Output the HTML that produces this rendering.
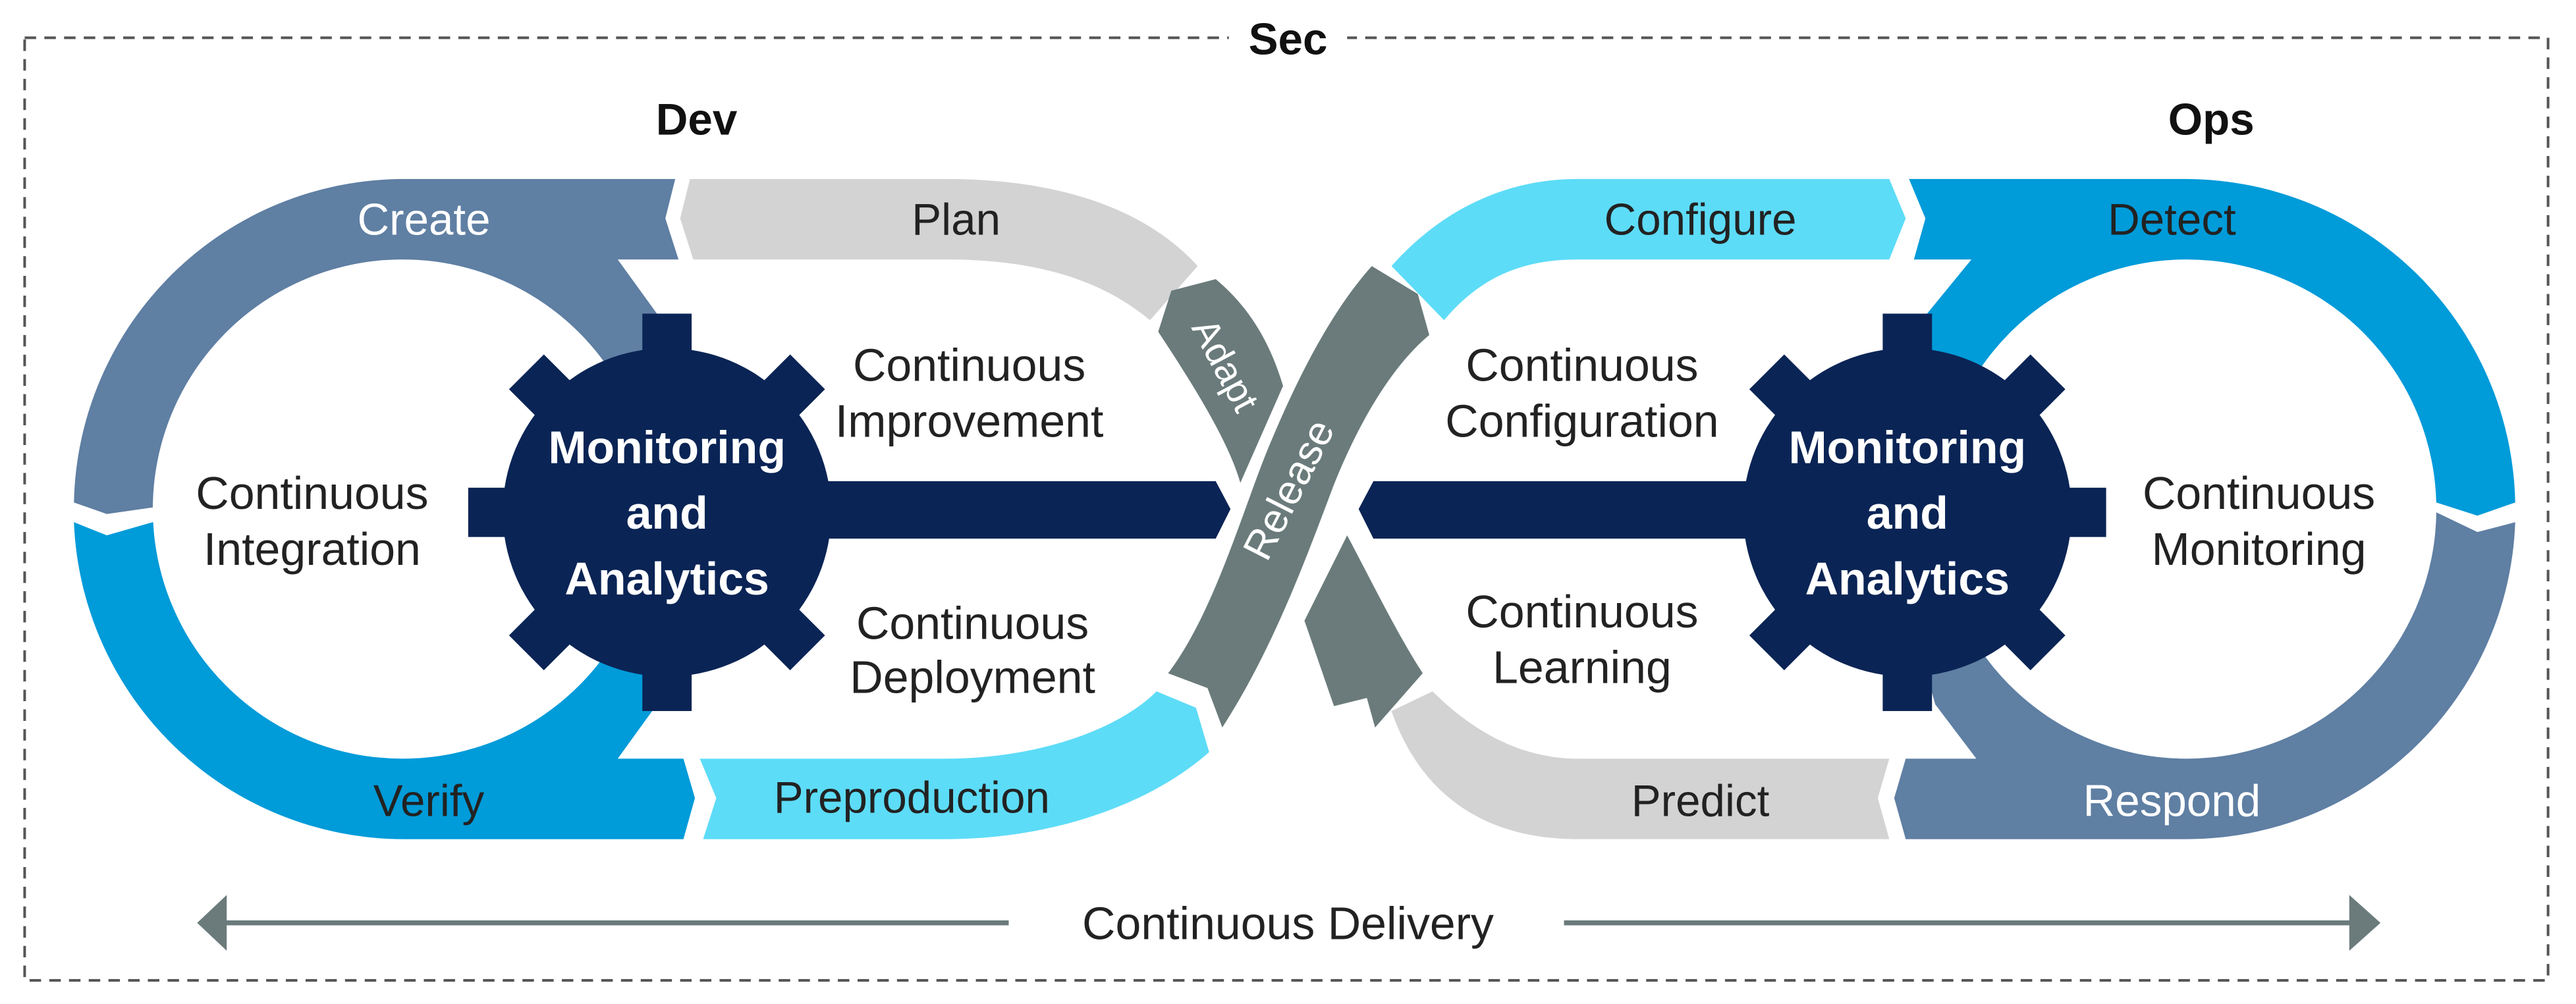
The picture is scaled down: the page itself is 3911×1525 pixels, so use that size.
<!DOCTYPE html>
<html><head><meta charset="utf-8"><style>html,body{margin:0;padding:0;background:#fff}svg{display:block}</style></head>
<body>
<svg width="3911" height="1525" viewBox="0 0 1568 611.4" preserveAspectRatio="none" xmlns="http://www.w3.org/2000/svg" font-family="Liberation Sans, Arial, sans-serif">
<rect x="15" y="23" width="1536" height="574" fill="none" stroke="#555" stroke-width="1.6" stroke-dasharray="7,5"/>
<rect x="748" y="10" width="72" height="26" fill="#fff"/>
<text x="784" y="33" font-size="27" font-weight="bold" text-anchor="middle" fill="#111">Sec</text>
<text x="424" y="82" font-size="27" font-weight="bold" text-anchor="middle" fill="#111">Dev</text>
<text x="1346" y="82" font-size="27" font-weight="bold" text-anchor="middle" fill="#111">Ops</text>

<!-- Left loop -->
<path d="M93,309 L65,313 L45,306 A201,201 0 0 1 246,109 L411,109 L405,133 L413,158 L376,158 L410,205 L420,300 L246,310 Z" fill="#5f7fa3"/>
<path d="M45,318 L65,326 L93,318 L246,312 L420,320 L410,415 L376,462 L416,462 L423,486 L416,511 L246,511 A201,201 0 0 1 45,318 Z" fill="#009bd9"/>
<circle cx="245" cy="310" r="152" fill="#fff"/>
<path d="M414,133 L420,109 L576,109 C650,109 700,130 729,162 L700,195 C670,170 630,158 576,158 L422,158 Z" fill="#d3d3d3"/>
<path d="M426,462 L576,462 C630,462 680,445 704,421 L728,431 L736,458 C700,490 640,511 576,511 L428,511 L436,486 Z" fill="#5ddcf7"/>
<path d="M705,202 L713,177 L740,170 C758,185 772,205 781,235 L755,294 C748,270 730,240 705,202 Z" fill="#6b7b7b"/>

<!-- Right loop -->
<path d="M847,162 C880,125 920,109 960,109 L1150,109 L1160,133 L1150,158 L960,158 C925,158 900,170 879,195 Z" fill="#5ddcf7"/>
<path d="M1162,109 L1331,109 A201,201 0 0 1 1531,306 L1508,314 L1483,306 L1331,310 L1150,300 L1173,191 L1200,158 L1165,158 L1172,133 Z" fill="#009bd9"/>
<path d="M1531,318 A200,200 0 0 1 1331,511 L1160,511 L1153,486 L1160,462 L1203,462 L1178,429 L1150,330 L1331,312 L1483,312 L1508,324 Z" fill="#5f7fa3"/>
<circle cx="1331" cy="310" r="152" fill="#fff"/>
<path d="M872,421 C898,447 928,462 960,462 L1150,462 L1143,486 L1150,511 L960,511 C905,511 865,485 847,433 Z" fill="#d3d3d3"/>
<path d="M794,378 L820,326 C838,360 850,385 866,410 L837,443 L832,425 L812,430 C805,410 800,395 794,378 Z" fill="#6b7b7b"/>

<!-- Release -->
<path d="M711,410 C740,372 758,305 774,268 C790,230 810,190 835,162 L863,179 L870,204 C846,224 826,260 812,295 C795,340 775,395 744,443 L735,419 Z" fill="#6b7b7b"/>
<text transform="translate(792,302) rotate(-63)" font-size="25" fill="#fff" text-anchor="middle">Release</text>
<text transform="translate(739,226) rotate(62)" font-size="23" fill="#fff" text-anchor="middle">Adapt</text>

<!-- Navy bars -->
<path d="M406,293 L740,293 L749,310 L740,328 L406,328 Z" fill="#0a2455"/>
<path d="M827,310 L836,293 L1163,293 L1163,328 L836,328 Z" fill="#0a2455"/>

<!-- Gears -->
<g transform="translate(406,312)" fill="#0a2455">
<circle r="100"/>
<rect x="-15" y="-121" width="30" height="40"/>
<rect x="-15" y="-121" width="30" height="40" transform="rotate(45)"/>
<rect x="-15" y="-121" width="30" height="40" transform="rotate(90)"/>
<rect x="-15" y="-121" width="30" height="40" transform="rotate(135)"/>
<rect x="-15" y="-121" width="30" height="40" transform="rotate(180)"/>
<rect x="-15" y="-121" width="30" height="40" transform="rotate(225)"/>
<rect x="-15" y="-121" width="30" height="40" transform="rotate(270)"/>
<rect x="-15" y="-121" width="30" height="40" transform="rotate(315)"/>
</g>
<g transform="translate(1161,312)" fill="#0a2455">
<circle r="100"/>
<rect x="-15" y="-121" width="30" height="40"/>
<rect x="-15" y="-121" width="30" height="40" transform="rotate(45)"/>
<rect x="-15" y="-121" width="30" height="40" transform="rotate(90)"/>
<rect x="-15" y="-121" width="30" height="40" transform="rotate(135)"/>
<rect x="-15" y="-121" width="30" height="40" transform="rotate(180)"/>
<rect x="-15" y="-121" width="30" height="40" transform="rotate(225)"/>
<rect x="-15" y="-121" width="30" height="40" transform="rotate(270)"/>
<rect x="-15" y="-121" width="30" height="40" transform="rotate(315)"/>
</g>
<g font-size="28" font-weight="bold" fill="#fff" text-anchor="middle">
<text x="406" y="282">Monitoring</text><text x="406" y="322">and</text><text x="406" y="362">Analytics</text>
<text x="1161" y="282">Monitoring</text><text x="1161" y="322">and</text><text x="1161" y="362">Analytics</text>
</g>

<!-- Band labels -->
<g font-size="27" text-anchor="middle">
<text x="258" y="143" fill="#fff">Create</text>
<text x="582" y="143" fill="#222">Plan</text>
<text x="261" y="497" fill="#222">Verify</text>
<text x="555" y="495" fill="#222">Preproduction</text>
<text x="1035" y="143" fill="#222">Configure</text>
<text x="1322" y="143" fill="#222">Detect</text>
<text x="1035" y="497" fill="#222">Predict</text>
<text x="1322" y="497" fill="#fff">Respond</text>
</g>
<g font-size="28" text-anchor="middle" fill="#222">
<text x="190" y="310">Continuous</text><text x="190" y="344">Integration</text>
<text x="590" y="232">Continuous</text><text x="590" y="266">Improvement</text>
<text x="592" y="389">Continuous</text><text x="592" y="422">Deployment</text>
<text x="963" y="232">Continuous</text><text x="963" y="266">Configuration</text>
<text x="963" y="382">Continuous</text><text x="963" y="416">Learning</text>
<text x="1375" y="310">Continuous</text><text x="1375" y="344">Monitoring</text>
</g>

<!-- Continuous Delivery -->
<line x1="136" y1="562" x2="614" y2="562" stroke="#6b7b7b" stroke-width="3"/>
<polygon points="120,562 138,545 138,579" fill="#6b7b7b"/>
<line x1="952" y1="562" x2="1432" y2="562" stroke="#6b7b7b" stroke-width="3"/>
<polygon points="1449,562 1430,545 1430,579" fill="#6b7b7b"/>
<text x="784" y="572" font-size="28" text-anchor="middle" fill="#222">Continuous Delivery</text>
</svg>
</body></html>
